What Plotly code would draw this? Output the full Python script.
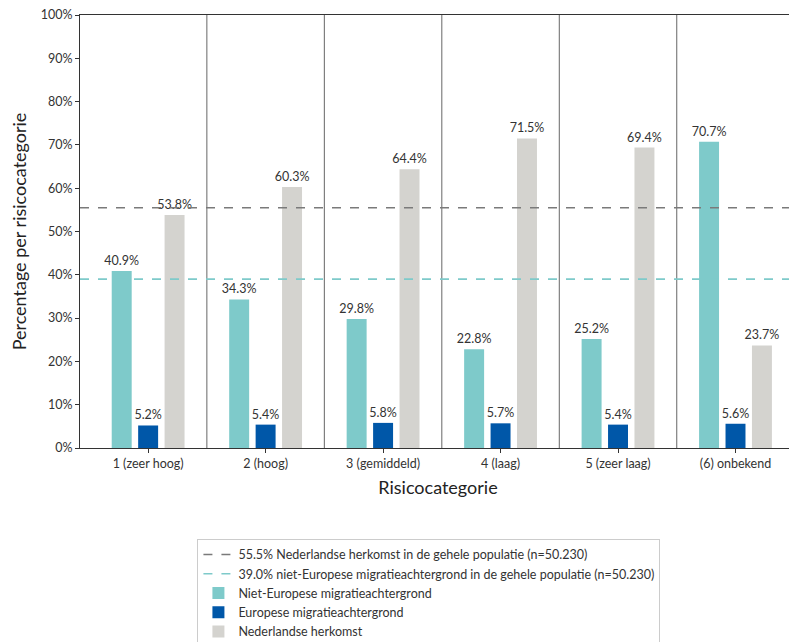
import plotly.graph_objects as go

categories = ["1 (zeer hoog)", "2 (hoog)", "3 (gemiddeld)", "4 (laag)", "5 (zeer laag)", "(6) onbekend"]
niet_europees = [40.9, 34.3, 29.8, 22.8, 25.2, 70.7]
europees = [5.2, 5.4, 5.8, 5.7, 5.4, 5.6]
nederlands = [53.8, 60.3, 64.4, 71.5, 69.4, 23.7]
ref_nederlands = 55.5
ref_niet_europees = 39.0
series_names = ["Niet-Europese migratieachtergrond", "Europese migratieachtergrond", "Nederlandse herkomst"]
ref_names = ["55.5% Nederlandse herkomst in de gehele populatie (n=50.230)",
             "39.0% niet-Europese migratieachtergrond in de gehele populatie (n=50.230)"]
y_ticks = list(range(0, 101, 10))

colors = ["#7ecaca", "#0057a8", "#d4d3cf"]
FONT = "Lato"
xr = [-0.58, 5.515]
idx = list(range(len(categories)))

fig = go.Figure()
# reference lines (first for legend order)
fig.add_trace(go.Scatter(x=xr, y=[ref_nederlands] * 2, mode="lines", name=ref_names[0],
                         line=dict(color="#7a7a7a", dash="dash", width=1.6), hoverinfo="skip"))
fig.add_trace(go.Scatter(x=xr, y=[ref_niet_europees] * 2, mode="lines", name=ref_names[1],
                         line=dict(color="#7ecaca", dash="dash", width=1.6), hoverinfo="skip"))

offsets = [-0.225, 0.0, 0.225]
for name, vals, col, off in zip(series_names, [niet_europees, europees, nederlands], colors, offsets):
    fig.add_trace(go.Bar(
        x=[i + off for i in idx], y=vals, width=0.17, name=name,
        marker=dict(color=col, line=dict(width=0)),
        text=[f"{v:.1f}%" for v in vals], textposition="outside",
        constraintext="none",
        textfont=dict(family=FONT, size=12.5, color="#333333"),
        cliponaxis=False,
    ))

for b in [0.5, 1.5, 2.5, 3.5, 4.5]:
    fig.add_shape(type="line", x0=b, x1=b, y0=0, y1=100, xref="x", yref="y",
                  line=dict(color="#666666", width=1), layer="below")

fig.update_layout(
    width=789, height=634,
    margin=dict(l=72, r=1, t=7, b=194, autoexpand=False),
    plot_bgcolor="white", paper_bgcolor="white",
    font=dict(family=FONT, color="#333333", size=12),
    barmode="overlay",
    showlegend=True,
    legend=dict(x=0.164, y=-0.21, xanchor="left", yanchor="top",
                bordercolor="#cccccc", borderwidth=1, bgcolor="white",
                font=dict(family=FONT, size=12.5, color="#333333"),
                tracegroupgap=0, itemwidth=30, traceorder="normal"),
)
fig.update_xaxes(
    range=xr, tickmode="array", tickvals=idx, ticktext=categories, automargin=False,
    ticklabeloverflow="allow",
    showgrid=False, zeroline=False, showline=True, linecolor="#333333", linewidth=1,
    mirror=True, ticks="outside", ticklen=4, tickcolor="#333333",
    tickfont=dict(family=FONT, size=12.5, color="#333333"),
    title=dict(text="Risicocategorie", font=dict(family=FONT, size=18, color="#222222"), standoff=11),
)
fig.update_yaxes(
    range=[0, 100], tickmode="array", tickvals=y_ticks, ticktext=[f"{t}%" for t in y_ticks],
    automargin=False, ticklabeloverflow="allow",
    showgrid=False, zeroline=False, showline=True, linecolor="#333333", linewidth=1,
    mirror=True, ticks="outside", ticklen=4, tickcolor="#333333",
    tickfont=dict(family=FONT, size=12.5, color="#333333"),
    title=dict(text="Percentage per risicocategorie", font=dict(family=FONT, size=18, color="#222222"), standoff=18),
)

fig.write_html("out.html")
